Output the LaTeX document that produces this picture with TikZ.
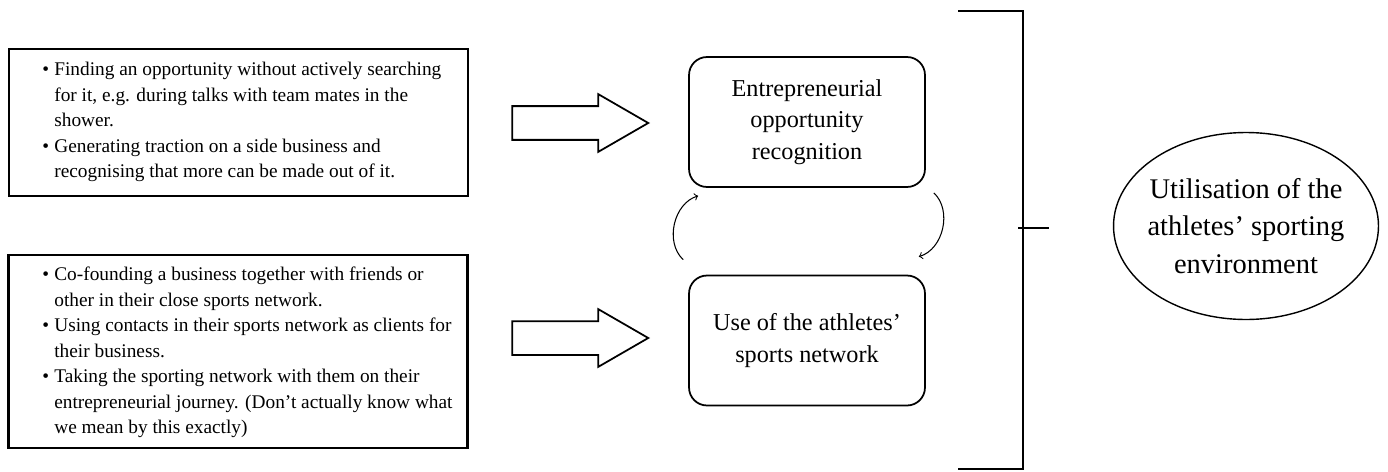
\documentclass[tikz,border=0pt]{standalone}
\usepackage{fontspec}
\setmainfont{Liberation Serif}
\usetikzlibrary{positioning, shapes.geometric, shapes.arrows, calc}

\newcommand{\listbullet}{\llap{\textbullet\hspace{3pt}}}

\begin{document}
\begin{tikzpicture}[x=0.02cm, y=0.02cm,
  listbox/.style={draw, line width=1.3pt, minimum width=9.18cm, inner sep=0},
  listtext/.style={align=left, anchor=north west, inner sep=0,
                   font=\fontsize{11}{14.5}\selectfont},
  stagebox/.style={draw, line width=1pt, rounded corners=0.36cm,
                   minimum width=4.72cm, minimum height=2.6cm, align=center,
                   font=\fontsize{13.8}{17.9}\selectfont},
  fatarrow/.style={single arrow, draw, line width=1pt, anchor=tip,
                   minimum height=2.72cm, inner xsep=0, inner ysep=0.32cm,
                   single arrow head extend=0.24cm, single arrow tip angle=60},
  cyclearrow/.style={->, line width=0.6pt, bend left=60},
  goal/.style={ellipse, draw, line width=0.8pt, minimum width=5.3cm,
               minimum height=3.74cm, inner sep=0},
  goaltext/.style={align=center, font=\fontsize{16.2}{21.3}\selectfont}]
  \useasboundingbox (0,0) rectangle (1388,471);

  % Left: lists of examples
  \node[listbox, minimum height=2.94cm] (findbox) at (238.5,348.5) {};
  \node[listtext] (findtext) at (54,409)
    {\listbullet Finding an opportunity without actively searching\\
     for it, e.g. during talks with team mates in the\\
     shower.\\
     \listbullet Generating traction on a side business and\\
     recognising that more can be made out of it.};
  \node[listbox, minimum height=3.86cm] (netbox) at (238,119.5) {};
  \node[listtext] (nettext) at (54,204)
    {\listbullet Co-founding a business together with friends or\\
     other in their close sports network.\\
     \listbullet Using contacts in their sports network as clients for\\
     their business.\\
     \listbullet Taking the sporting network with them on their\\
     entrepreneurial journey. (Don't actually know what\\
     we mean by this exactly)};

  % Block arrows into the two stages
  \node[fatarrow] (findarrow) at (650,348) {};
  \node[fatarrow] (netarrow) at (650,133) {};

  % The two stages
  \node[stagebox] (opp) at (807,349)
    {Entrepreneurial\\opportunity\\recognition};
  \node[stagebox] (use) at (807,130.5)
    {Use of the athletes'\\sports network};

  % Loop between the stages
  \draw[cyclearrow] ($(use.north west)+(-5,15)$) to ($(opp.south west)+(10,-8)$);
  \draw[cyclearrow] ($(opp.south east)+(8,-5)$) to ($(use.north east)+(-7,18)$);

  % Bracket and outcome
  \draw[line width=1.6pt] (958,460) -- (1023,460) -- (1023,2) -- (958,2);
  \coordinate (tick) at (1049,243);
  \draw[line width=1.6pt] (1018,243) -- (tick);
  \node[goal, label={[goaltext]center:{Utilisation of the\\athletes' sporting\\environment}}]
    (env) at (1246,245) {};
\end{tikzpicture}
\end{document}
